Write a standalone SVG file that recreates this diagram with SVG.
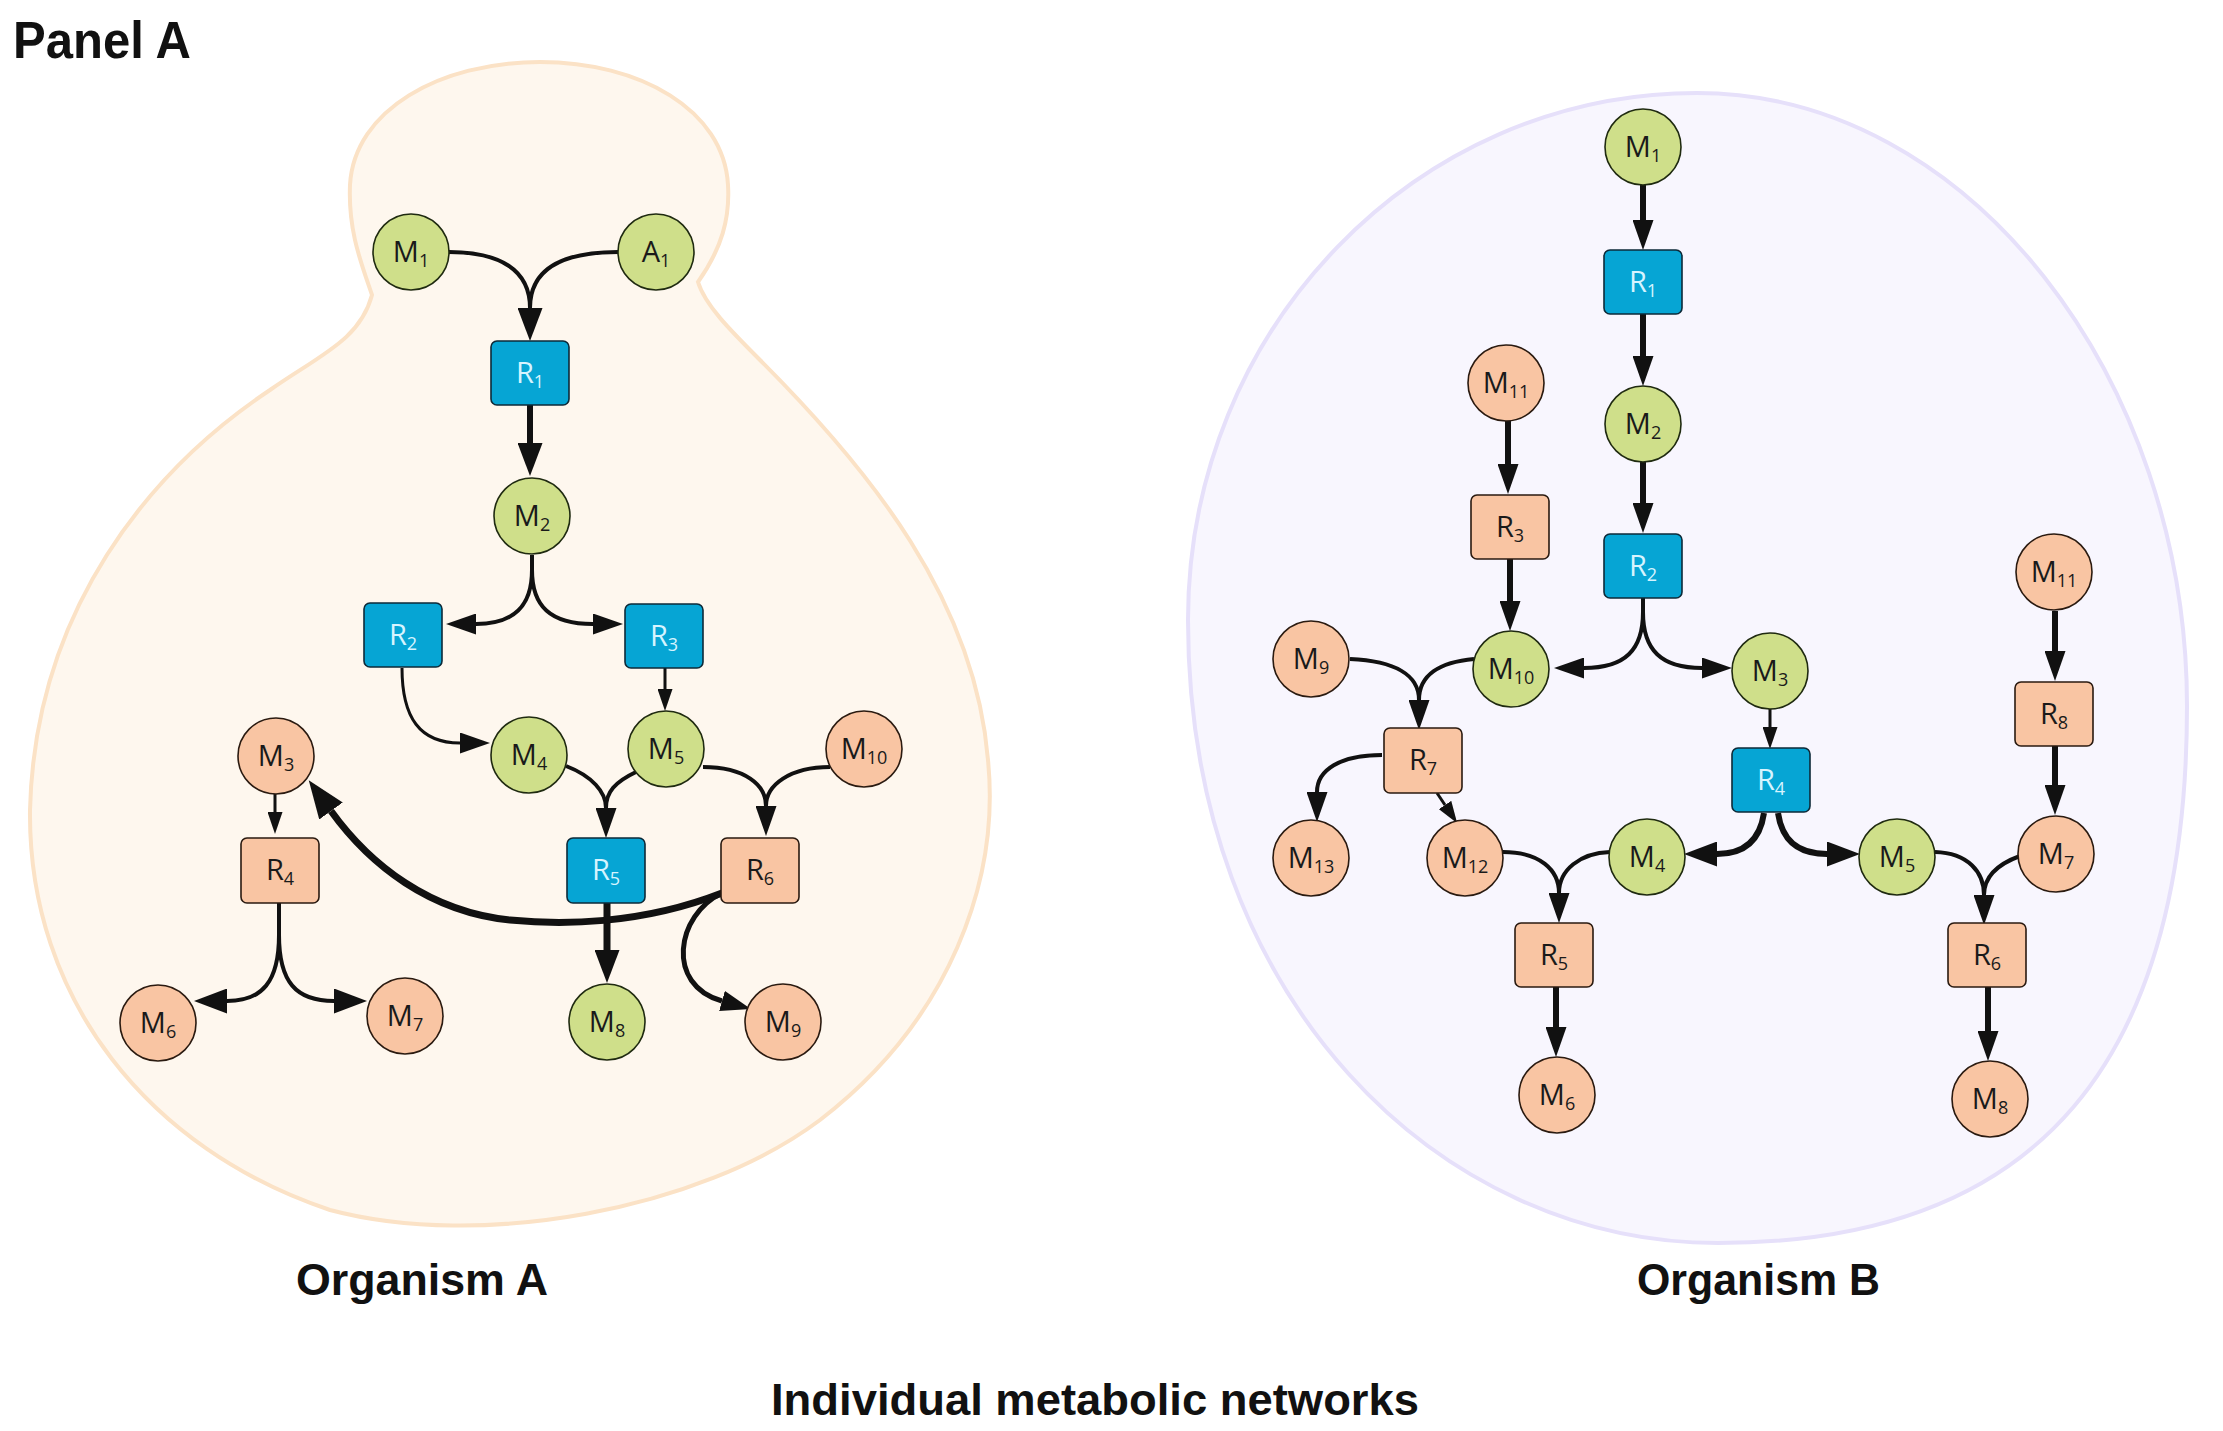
<svg xmlns="http://www.w3.org/2000/svg" width="2223" height="1431" viewBox="0 0 2223 1431">
<style>
.bg{fill:#ffffff}
.orgA{fill:#fef7ee;stroke:#fbe2c6;stroke-width:4}
.orgB{fill:#f8f6fe;stroke:#e6e0fa;stroke-width:4}
.g{fill:#cfdf8a;stroke:#1f2a10;stroke-width:1.6}
.o{fill:#f9c5a3;stroke:#2a1a10;stroke-width:1.6}
.b{fill:#06a5d4;stroke:#0d2a38;stroke-width:1.6}
.ro{fill:#f9c5a3;stroke:#2a1a10;stroke-width:1.6}
.t{font-family:"Open Sans","Noto Sans","Liberation Sans",sans-serif;font-size:29px;fill:#1a1a1a;text-anchor:middle}
.tw{font-family:"Open Sans","Noto Sans","Liberation Sans",sans-serif;font-size:29px;fill:#d6f4ff;text-anchor:middle}
.s{font-size:18px}
.c{fill:none;stroke:#111;stroke-linecap:butt}
.w3{stroke-width:3}
.w4{stroke-width:4}
.w5{stroke-width:5}
.w6{stroke-width:6}
.w7{stroke-width:7}
.title{font-family:"Liberation Sans",Arial,sans-serif;font-weight:bold;fill:#111}
</style>
<defs>
<marker id="aS" markerUnits="userSpaceOnUse" markerWidth="22" markerHeight="15" viewBox="0 0 22 15" refX="0" refY="7.5" orient="auto"><path d="M0,0 L22,7.5 L0,15 z" fill="#111"/></marker>
<marker id="aM" markerUnits="userSpaceOnUse" markerWidth="30" markerHeight="21" viewBox="0 0 30 21" refX="0" refY="10.5" orient="auto"><path d="M0,0 L30,10.5 L0,21 z" fill="#111"/></marker>
<marker id="aB" markerUnits="userSpaceOnUse" markerWidth="33" markerHeight="25" viewBox="0 0 33 25" refX="0" refY="12.5" orient="auto"><path d="M0,0 L33,12.5 L0,25 z" fill="#111"/></marker>
<marker id="aH" markerUnits="userSpaceOnUse" markerWidth="38" markerHeight="29" viewBox="0 0 38 29" refX="0" refY="14.5" orient="auto"><path d="M0,0 L38,14.5 L0,29 z" fill="#111"/></marker>
</defs>
<rect class="bg" x="0" y="0" width="2223" height="1431"/>

<g id="organism-a-outline">
<path class="orgA" d="M 698,282 C 722,248 730,218 728,185 C 724,110 640,62 540,62 C 440,62 354,110 350,185 C 348,232 362,265 372,295 C 360,340 320,355 270,390 C 150,470 35,610 30,810 C 28,1000 150,1150 330,1210 C 480,1250 700,1210 820,1120 C 950,1020 1000,880 988,760 C 975,600 870,470 760,360 C 730,330 705,305 698,282 Z"/>
</g>
<g id="organism-b-outline">
<path class="orgB" d="M 1697,93 C 1970,93 2187,380 2187,706 C 2187,1060 2040,1243 1718,1243 C 1440,1243 1188,1000 1188,620 C 1188,329 1416,93 1697,93 Z"/>
</g>

<g id="connectors">
<!-- Organism A -->
<path class="c w4" d="M 449,252 C 500,252 530,270 530,308" marker-end="url(#aB)"/>
<path class="c w4" d="M 618,252 C 560,252 530,270 530,308"/>
<path class="c w6" d="M 530,405 L 530,443" marker-end="url(#aB)"/>
<path class="c w4" d="M 532,555 L 532,570 C 532,606 514,624 476,624" marker-end="url(#aM)"/>
<path class="c w4" d="M 532,570 C 532,606 550,624 593,624" marker-end="url(#aM)"/>
<path class="c w3" d="M 665,668 L 665,689" marker-end="url(#aS)"/>
<path class="c w3" d="M 402,668 C 402,718 420,743 460,743" marker-end="url(#aM)"/>
<path class="c w4" d="M 566,766 C 592,776 606,792 606,808" marker-end="url(#aM)"/>
<path class="c w4" d="M 636,772 C 615,782 606,792 606,808"/>
<path class="c w4" d="M 703,767 C 745,767 766,785 766,806" marker-end="url(#aM)"/>
<path class="c w4" d="M 830,767 C 790,767 766,785 766,806"/>
<path class="c w3" d="M 275,794 L 275,812" marker-end="url(#aS)"/>
<path class="c w4" d="M 279,903 L 279,935 C 279,982 262,1001 227,1001" marker-end="url(#aB)"/>
<path class="c w4" d="M 279,935 C 279,982 296,1001 334,1001" marker-end="url(#aB)"/>
<path class="c w7" d="M 607,903 L 607,950" marker-end="url(#aB)"/>
<path class="c w7" d="M 722,893 C 640,925 560,925 510,920 C 430,912 370,865 331,811" marker-end="url(#aH)"/>
<path class="c w5" d="M 722,893 C 676,915 665,985 722,1001" marker-end="url(#aM)"/>

<!-- Organism B -->
<path class="c w6" d="M 1643,185 L 1643,220" marker-end="url(#aM)"/>
<path class="c w6" d="M 1643,314 L 1643,356" marker-end="url(#aM)"/>
<path class="c w6" d="M 1643,462 L 1643,503" marker-end="url(#aM)"/>
<path class="c w6" d="M 1508,421 L 1508,464" marker-end="url(#aM)"/>
<path class="c w6" d="M 1510,559 L 1510,601" marker-end="url(#aM)"/>
<path class="c w4" d="M 1643,598 L 1643,612 C 1643,650 1625,668 1584,668" marker-end="url(#aM)"/>
<path class="c w4" d="M 1643,612 C 1643,650 1661,668 1702,668" marker-end="url(#aM)"/>
<path class="c w4" d="M 1350,659 C 1395,661 1419,675 1419,700" marker-end="url(#aM)"/>
<path class="c w4" d="M 1474,659 C 1440,662 1419,675 1419,700"/>
<path class="c w4" d="M 1382,755 C 1340,755 1317,770 1317,792" marker-end="url(#aM)"/>
<path class="c w3" d="M 1437,793 L 1445,805" marker-end="url(#aS)"/>
<path class="c w3" d="M 1770,709 L 1770,727" marker-end="url(#aS)"/>
<path class="c w6" d="M 1764,813 C 1760,840 1745,854 1717,854" marker-end="url(#aB)"/>
<path class="c w6" d="M 1778,813 C 1782,840 1797,854 1827,854" marker-end="url(#aB)"/>
<path class="c w4" d="M 1503,852 C 1540,852 1559,870 1559,893" marker-end="url(#aM)"/>
<path class="c w4" d="M 1610,852 C 1580,853 1559,870 1559,893"/>
<path class="c w4" d="M 1935,852 C 1968,853 1984,872 1984,895" marker-end="url(#aM)"/>
<path class="c w4" d="M 2020,856 C 1998,864 1984,876 1984,895"/>
<path class="c w6" d="M 2055,611 L 2055,651" marker-end="url(#aM)"/>
<path class="c w6" d="M 2055,746 L 2055,785" marker-end="url(#aM)"/>
<path class="c w6" d="M 1556,987 L 1556,1027" marker-end="url(#aM)"/>
<path class="c w6" d="M 1988,987 L 1988,1031" marker-end="url(#aM)"/>
</g>

<!-- Organism A nodes -->
<g id="A-M1"><circle class="g" cx="411" cy="252" r="38"/><text class="t" x="411" y="262">M<tspan class="s" dy="5">1</tspan></text></g>
<g id="A-A1"><circle class="g" cx="656" cy="252" r="38"/><text class="t" x="656" y="262">A<tspan class="s" dy="5">1</tspan></text></g>
<g id="A-R1"><rect class="b" x="491" y="341" width="78" height="64" rx="6"/><text class="tw" x="530" y="383">R<tspan class="s" dy="5">1</tspan></text></g>
<g id="A-M2"><circle class="g" cx="532" cy="516" r="38"/><text class="t" x="532" y="526">M<tspan class="s" dy="5">2</tspan></text></g>
<g id="A-R2"><rect class="b" x="364" y="603" width="78" height="64" rx="6"/><text class="tw" x="403" y="645">R<tspan class="s" dy="5">2</tspan></text></g>
<g id="A-R3"><rect class="b" x="625" y="604" width="78" height="64" rx="6"/><text class="tw" x="664" y="646">R<tspan class="s" dy="5">3</tspan></text></g>
<g id="A-M4"><circle class="g" cx="529" cy="755" r="38"/><text class="t" x="529" y="765">M<tspan class="s" dy="5">4</tspan></text></g>
<g id="A-M5"><circle class="g" cx="666" cy="749" r="38"/><text class="t" x="666" y="759">M<tspan class="s" dy="5">5</tspan></text></g>
<g id="A-M10"><circle class="o" cx="864" cy="749" r="38"/><text class="t" x="864" y="759">M<tspan class="s" dy="5">10</tspan></text></g>
<g id="A-M3"><circle class="o" cx="276" cy="756" r="38"/><text class="t" x="276" y="766">M<tspan class="s" dy="5">3</tspan></text></g>
<g id="A-R4"><rect class="ro" x="241" y="838" width="78" height="65" rx="6"/><text class="t" x="280" y="880">R<tspan class="s" dy="5">4</tspan></text></g>
<g id="A-R5"><rect class="b" x="567" y="838" width="78" height="65" rx="6"/><text class="tw" x="606" y="880">R<tspan class="s" dy="5">5</tspan></text></g>
<g id="A-R6"><rect class="ro" x="721" y="838" width="78" height="65" rx="6"/><text class="t" x="760" y="880">R<tspan class="s" dy="5">6</tspan></text></g>
<g id="A-M6"><circle class="o" cx="158" cy="1023" r="38"/><text class="t" x="158" y="1033">M<tspan class="s" dy="5">6</tspan></text></g>
<g id="A-M7"><circle class="o" cx="405" cy="1016" r="38"/><text class="t" x="405" y="1026">M<tspan class="s" dy="5">7</tspan></text></g>
<g id="A-M8"><circle class="g" cx="607" cy="1022" r="38"/><text class="t" x="607" y="1032">M<tspan class="s" dy="5">8</tspan></text></g>
<g id="A-M9"><circle class="o" cx="783" cy="1022" r="38"/><text class="t" x="783" y="1032">M<tspan class="s" dy="5">9</tspan></text></g>

<!-- Organism B nodes -->
<g id="B-M1"><circle class="g" cx="1643" cy="147" r="38"/><text class="t" x="1643" y="157">M<tspan class="s" dy="5">1</tspan></text></g>
<g id="B-R1"><rect class="b" x="1604" y="250" width="78" height="64" rx="6"/><text class="tw" x="1643" y="292">R<tspan class="s" dy="5">1</tspan></text></g>
<g id="B-M2"><circle class="g" cx="1643" cy="424" r="38"/><text class="t" x="1643" y="434">M<tspan class="s" dy="5">2</tspan></text></g>
<g id="B-R2"><rect class="b" x="1604" y="534" width="78" height="64" rx="6"/><text class="tw" x="1643" y="576">R<tspan class="s" dy="5">2</tspan></text></g>
<g id="B-M11a"><circle class="o" cx="1506" cy="383" r="38"/><text class="t" x="1506" y="393">M<tspan class="s" dy="5">11</tspan></text></g>
<g id="B-R3"><rect class="ro" x="1471" y="495" width="78" height="64" rx="6"/><text class="t" x="1510" y="537">R<tspan class="s" dy="5">3</tspan></text></g>
<g id="B-M9"><circle class="o" cx="1311" cy="659" r="38"/><text class="t" x="1311" y="669">M<tspan class="s" dy="5">9</tspan></text></g>
<g id="B-M10"><circle class="g" cx="1511" cy="669" r="38"/><text class="t" x="1511" y="679">M<tspan class="s" dy="5">10</tspan></text></g>
<g id="B-M3"><circle class="g" cx="1770" cy="671" r="38"/><text class="t" x="1770" y="681">M<tspan class="s" dy="5">3</tspan></text></g>
<g id="B-R7"><rect class="ro" x="1384" y="728" width="78" height="65" rx="6"/><text class="t" x="1423" y="770">R<tspan class="s" dy="5">7</tspan></text></g>
<g id="B-R4"><rect class="b" x="1732" y="748" width="78" height="64" rx="6"/><text class="tw" x="1771" y="790">R<tspan class="s" dy="5">4</tspan></text></g>
<g id="B-M11b"><circle class="o" cx="2054" cy="572" r="38"/><text class="t" x="2054" y="582">M<tspan class="s" dy="5">11</tspan></text></g>
<g id="B-R8"><rect class="ro" x="2015" y="682" width="78" height="64" rx="6"/><text class="t" x="2054" y="724">R<tspan class="s" dy="5">8</tspan></text></g>
<g id="B-M13"><circle class="o" cx="1311" cy="858" r="38"/><text class="t" x="1311" y="868">M<tspan class="s" dy="5">13</tspan></text></g>
<g id="B-M12"><circle class="o" cx="1465" cy="858" r="38"/><text class="t" x="1465" y="868">M<tspan class="s" dy="5">12</tspan></text></g>
<g id="B-M4"><circle class="g" cx="1647" cy="857" r="38"/><text class="t" x="1647" y="867">M<tspan class="s" dy="5">4</tspan></text></g>
<g id="B-M5"><circle class="g" cx="1897" cy="857" r="38"/><text class="t" x="1897" y="867">M<tspan class="s" dy="5">5</tspan></text></g>
<g id="B-M7"><circle class="o" cx="2056" cy="854" r="38"/><text class="t" x="2056" y="864">M<tspan class="s" dy="5">7</tspan></text></g>
<g id="B-R5"><rect class="ro" x="1515" y="923" width="78" height="64" rx="6"/><text class="t" x="1554" y="965">R<tspan class="s" dy="5">5</tspan></text></g>
<g id="B-R6"><rect class="ro" x="1948" y="923" width="78" height="64" rx="6"/><text class="t" x="1987" y="965">R<tspan class="s" dy="5">6</tspan></text></g>
<g id="B-M6"><circle class="o" cx="1557" cy="1095" r="38"/><text class="t" x="1557" y="1105">M<tspan class="s" dy="5">6</tspan></text></g>
<g id="B-M8"><circle class="o" cx="1990" cy="1099" r="38"/><text class="t" x="1990" y="1109">M<tspan class="s" dy="5">8</tspan></text></g>

<g id="labels">
<text class="title" x="13" y="58" font-size="52" textLength="178" lengthAdjust="spacingAndGlyphs">Panel A</text>
<text class="title" x="296" y="1295" font-size="44" textLength="252" lengthAdjust="spacingAndGlyphs">Organism A</text>
<text class="title" x="1637" y="1295" font-size="44" textLength="243" lengthAdjust="spacingAndGlyphs">Organism B</text>
<text class="title" x="771" y="1415" font-size="44" textLength="648" lengthAdjust="spacingAndGlyphs">Individual metabolic networks</text>
</g>
</svg>
